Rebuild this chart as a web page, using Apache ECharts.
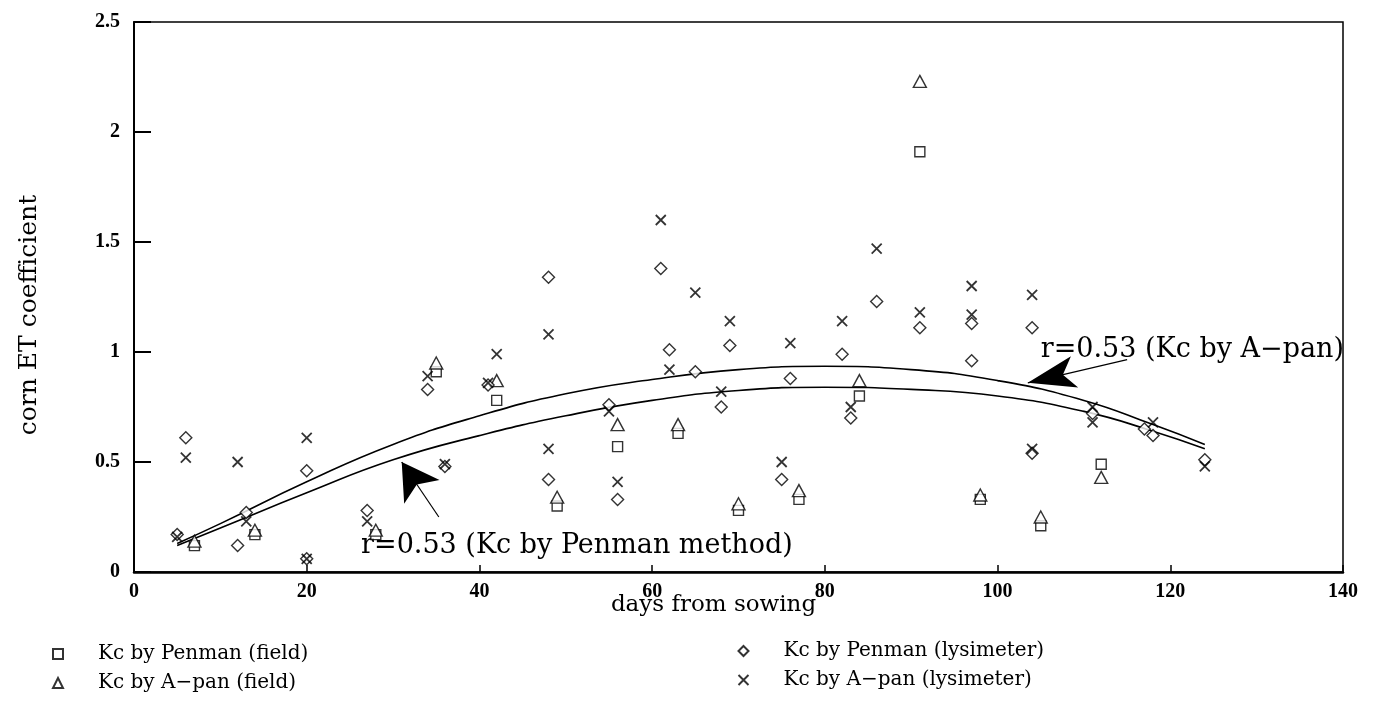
<!DOCTYPE html>
<html>
<head>
<meta charset="utf-8">
<script src="https://cdn.jsdelivr.net/npm/echarts@6/dist/echarts.min.js"></script>
<style>
html,body{margin:0;padding:0;background:#fff;}
#chart{width:1374px;height:713px;}
</style>
</head>
<body>
<div id="chart"></div>
<script>
// ---- data (days from sowing, corn ET coefficient) ----
const penmanField = [[7,0.12],[14,0.17],[28,0.17],[35,0.91],[42,0.78],[49,0.30],[56,0.57],[63,0.63],[70,0.28],[77,0.33],[84,0.80],[91,1.91],[98,0.33],[105,0.21],[112,0.49]];
const apanField = [[7,0.14],[14,0.19],[28,0.19],[35,0.95],[42,0.87],[49,0.34],[56,0.67],[63,0.67],[70,0.31],[77,0.37],[84,0.87],[91,2.23],[98,0.35],[105,0.25],[112,0.43]];
const penmanLysimeter = [[5,0.17],[6,0.61],[12,0.12],[13,0.27],[20,0.46],[20,0.06],[27,0.28],[34,0.83],[36,0.48],[41,0.85],[48,1.34],[48,0.42],[55,0.76],[56,0.33],[61,1.38],[62,1.01],[65,0.91],[68,0.75],[69,1.03],[75,0.42],[76,0.88],[82,0.99],[83,0.70],[86,1.23],[91,1.11],[97,1.13],[97,0.96],[104,1.11],[104,0.54],[111,0.72],[117,0.65],[118,0.62],[124,0.51]];
const apanLysimeter = [[5,0.16],[6,0.52],[12,0.50],[13,0.23],[20,0.61],[20,0.06],[27,0.23],[34,0.89],[36,0.49],[41,0.86],[42,0.99],[48,1.08],[48,0.56],[55,0.73],[56,0.41],[61,1.60],[62,0.92],[65,1.27],[68,0.82],[69,1.14],[75,0.50],[76,1.04],[82,1.14],[83,0.75],[86,1.47],[91,1.18],[97,1.30],[97,1.17],[104,1.26],[104,0.56],[111,0.75],[111,0.68],[118,0.68],[124,0.48]];
// regression curves
const apanCurve = [[5,0.13],[10,0.22],[20,0.41],[30,0.58],[40,0.71],[50,0.81],[60,0.875],[70,0.92],[80,0.935],[90,0.92],[100,0.87],[110,0.78],[118,0.67],[124,0.58]];
const penmanCurve = [[5,0.12],[10,0.20],[20,0.36],[30,0.51],[40,0.62],[50,0.71],[60,0.78],[70,0.825],[80,0.84],[90,0.83],[100,0.80],[110,0.73],[118,0.64],[124,0.56]];
const xTicks = {min:0, max:140, interval:20};
const yTicks = {min:0, max:2.5, interval:0.5};
const names = ['Kc by Penman (field)','Kc by A\u2212pan (field)','Kc by Penman (lysimeter)','Kc by A\u2212pan (lysimeter)'];
const apanNote = 'r=0.53 (Kc by A\u2212pan)';
const penmanNote = 'r=0.53 (Kc by Penman method)';

const SERIF = '"DejaVu Serif", "Liberation Serif", serif';
const crossPath = 'path://M0,0L10,10M10,0L0,10';
const mk = {color:'#fff', borderColor:'#000', borderWidth:1.4};

const chart = echarts.init(document.getElementById('chart'), null, {renderer:'canvas'});
chart.setOption({
  animation:false,
  backgroundColor:'#fff',
  grid:{left:134, right:31, top:22, bottom:141, show:true, borderColor:'#000', borderWidth:1.5},
  xAxis:{
    type:'value', min:xTicks.min, max:xTicks.max, interval:xTicks.interval,
    name:'days from sowing', nameLocation:'middle', nameGap:22, nameMoveOverlap:false,
    nameTextStyle:{fontFamily:SERIF, fontSize:23, color:'#000', padding:[0,50,0,0]},
    axisLine:{lineStyle:{color:'#000', width:2.5}},
    axisTick:{inside:true, length:7, lineStyle:{color:'#000', width:1.5}},
    axisLabel:{fontFamily:'"Liberation Serif", serif', fontWeight:'bold', fontSize:20, color:'#000', margin:10},
    splitLine:{show:false}
  },
  yAxis:{
    type:'value', min:yTicks.min, max:yTicks.max, interval:yTicks.interval,
    name:'corn ET coefficient', nameLocation:'middle', nameGap:92, nameMoveOverlap:false,
    nameTextStyle:{fontFamily:SERIF, fontSize:25, color:'#000', padding:[0,36,0,0]},
    axisLine:{lineStyle:{color:'#000', width:2}},
    axisTick:{inside:true, length:17, lineStyle:{color:'#000', width:2}},
    axisLabel:{fontFamily:'"Liberation Serif", serif', fontWeight:'bold', fontSize:20, color:'#000', margin:14},
    splitLine:{show:false}
  },
  legend:[
    {left:47, top:639, orient:'vertical', itemGap:9, itemWidth:10, itemHeight:10,
     data:[names[0], names[1]],
     textStyle:{fontFamily:SERIF, fontSize:20, color:'#000', padding:[0,0,0,30]}},
    {left:731, top:636, orient:'vertical', itemGap:9, itemWidth:10, itemHeight:10,
     data:[names[2], names[3]],
     textStyle:{fontFamily:SERIF, fontSize:20, color:'#000', padding:[0,0,0,30]}}
  ],
  series:[
    {name:names[0], type:'scatter', data:penmanField, symbol:'rect', symbolSize:10, itemStyle:mk, z:5},
    {name:names[1], type:'scatter', data:apanField, symbol:'triangle', symbolSize:[13,12], itemStyle:mk, z:5},
    {name:names[2], type:'scatter', data:penmanLysimeter, symbol:'diamond', symbolSize:12, itemStyle:mk, z:5},
    {name:names[3], type:'scatter', data:apanLysimeter, symbol:crossPath, symbolSize:10, itemStyle:{color:'none', borderColor:'#000', borderWidth:1.8}, z:5},
    {name:'apanCurve', type:'line', data:apanCurve, smooth:true, showSymbol:false, symbol:'none',
     lineStyle:{color:'#000', width:1.6}, z:3,
     markLine:{silent:true, symbol:['none','arrow'], lineStyle:{color:'#000', width:1.2, type:'solid'}, label:{show:false},
       data:[[{coord:[115,0.965], symbol:'none'},{coord:[103.5,0.86], symbol:'arrow', symbolSize:[24,48]}]]},
     markPoint:{silent:true, symbol:'circle', symbolSize:0,
       data:[{coord:[105,1.01], label:{show:true, position:'right', distance:0, formatter:apanNote, fontFamily:SERIF, fontSize:27, color:'#000'}}]}
    },
    {name:'penmanCurve', type:'line', data:penmanCurve, smooth:true, showSymbol:false, symbol:'none',
     lineStyle:{color:'#000', width:1.6}, z:3,
     markLine:{silent:true, symbol:['none','arrow'], lineStyle:{color:'#000', width:1.2, type:'solid'}, label:{show:false},
       data:[[{coord:[35.3,0.25], symbol:'none'},{coord:[31,0.5], symbol:'arrow', symbolSize:[32,36]}]]},
     markPoint:{silent:true, symbol:'circle', symbolSize:0,
       data:[{coord:[26.3,0.12], label:{show:true, position:'right', distance:0, formatter:penmanNote, fontFamily:SERIF, fontSize:27, color:'#000'}}]}
    }
  ]
});
</script>
</body>
</html>
